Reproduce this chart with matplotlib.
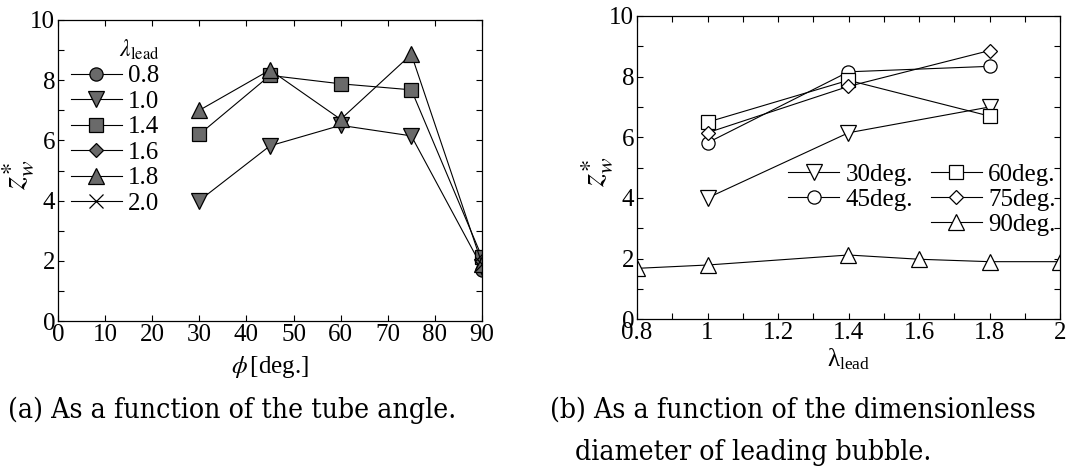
import matplotlib
matplotlib.use("Agg")
import matplotlib.pyplot as plt
from matplotlib.lines import Line2D
from matplotlib.ticker import MultipleLocator, FuncFormatter

plt.rcParams['font.family'] = ['Liberation Serif', 'DejaVu Serif']
plt.rcParams['mathtext.fontset'] = 'stix'

# ---------------- data ----------------
# left chart: z_w* vs phi [deg.] for each lambda_lead
lam08_phi = [90]
lam08_z = [1.68]
lam10_phi = [30, 45, 60, 75, 90]
lam10_z = [4.0, 5.82, 6.5, 6.15, 1.79]
lam14_phi = [30, 45, 60, 75, 90]
lam14_z = [6.2, 8.16, 7.88, 7.68, 2.12]
lam16_phi = [90]
lam16_z = [1.98]
lam18_phi = [30, 45, 60, 75, 90]
lam18_z = [7.0, 8.34, 6.7, 8.86, 1.90]
lam20_phi = [90]
lam20_z = [1.90]
left_labels = ['0.8', '1.0', '1.4', '1.6', '1.8', '2.0']

# right chart: z_w* vs lambda_lead for each tube angle
lam_sub = [1.0, 1.4, 1.8]
deg30_z = [4.0, 6.15, 7.0]
deg45_z = [5.82, 8.16, 8.34]
deg60_z = [6.5, 7.88, 6.7]
deg75_z = [6.15, 7.68, 8.86]
deg90_lam = [0.8, 1.0, 1.4, 1.6, 1.8, 2.0]
deg90_z = [1.68, 1.79, 2.12, 1.98, 1.90, 1.90]
right_labels = ['30deg.', '45deg.', '60deg.', '75deg.', '90deg.']

caption_a = '(a) As a function of the tube angle.'
caption_b1 = '(b) As a function of the dimensionless'
caption_b2 = 'diameter of leading bubble.'

# ---------------- figure ----------------
W, H = 1072, 471
fig = plt.figure(figsize=(W / 100, H / 100), dpi=100)

def px_axes(x0, y0, x1, y1):
    return fig.add_axes([x0 / W, 1 - y1 / H, (x1 - x0) / W, (y1 - y0) / H])

axL = px_axes(58, 20, 482, 321)
axR = px_axes(637, 16, 1060, 319.3)

FS = 18
gray = '#6a6a6a'
lw = 0.8

def style(ax):
    ax.tick_params(which='both', direction='in', top=True, right=True,
                   length=4, width=0.8, labelsize=FS)
    ax.tick_params(axis='x', pad=2)
    ax.tick_params(axis='y', pad=2)
    for s in ax.spines.values():
        s.set_linewidth(0.9)

ylabel_txt = r'$z_{w}^{\ast}$'

# left
left_series = [
    (lam08_phi, lam08_z, 'o', 9.5),
    (lam10_phi, lam10_z, 'v', 11),
    (lam14_phi, lam14_z, 's', 9.5),
    (lam16_phi, lam16_z, 'D', 7.2),
    (lam18_phi, lam18_z, '^', 11),
    (lam20_phi, lam20_z, 'x', 10),
]
for (xs, ys, m, ms), lab in zip(left_series, left_labels):
    axL.plot(xs, ys, color='black', lw=lw, marker=m, ms=ms,
             mfc=gray, mec='black', mew=0.9, label=lab)
axL.set_xlim(0, 90)
axL.set_ylim(0, 10)
axL.xaxis.set_major_locator(MultipleLocator(10))
axL.yaxis.set_major_locator(MultipleLocator(2))
axL.yaxis.set_minor_locator(MultipleLocator(1))
style(axL)
axL.set_xlabel(r'$\phi\,$[deg.]', fontsize=FS)
axL.xaxis.set_label_coords(0.5, -0.11)
axL.set_ylabel(ylabel_txt, fontsize=24)
axL.yaxis.set_label_coords(-0.052, 0.485)
axL.legend(loc='upper left', bbox_to_anchor=(0.03, 0.942),
           frameon=False, fontsize=FS, title=r'$\lambda_{\rm lead}$',
           title_fontsize=FS - 1, handlelength=2.05, handletextpad=0.25,
           labelspacing=0.12, borderpad=0, borderaxespad=0,
           alignment='right')

# right
right_series = [
    (lam_sub, deg30_z, 'v', 11),
    (lam_sub, deg45_z, 'o', 9.5),
    (lam_sub, deg60_z, 's', 9.5),
    (lam_sub, deg75_z, 'D', 7.2),
    (deg90_lam, deg90_z, '^', 11),
]
handles = []
for (xs, ys, m, ms), lab in zip(right_series, right_labels):
    h, = axR.plot(xs, ys, color='black', lw=lw, marker=m, ms=ms,
                  mfc='white', mec='black', mew=0.9, label=lab)
    handles.append(h)
axR.set_xlim(0.8, 2.0)
axR.set_ylim(0, 10)
axR.xaxis.set_major_locator(MultipleLocator(0.2))
axR.xaxis.set_minor_locator(MultipleLocator(0.1))
axR.yaxis.set_major_locator(MultipleLocator(2))
axR.yaxis.set_minor_locator(MultipleLocator(1))
axR.xaxis.set_major_formatter(FuncFormatter(lambda v, p: '%g' % round(v, 2)))
style(axR)
axR.set_xlabel(r'$\mathregular{λ_{lead}}$', fontsize=FS)
axR.xaxis.set_label_coords(0.5, -0.09)
axR.set_ylabel(ylabel_txt, fontsize=24)
axR.yaxis.set_label_coords(-0.052, 0.486)
blank = Line2D([], [], color='none', marker=None)
hs = [handles[0], handles[1], blank, handles[2], handles[3], handles[4]]
ls = [right_labels[0], right_labels[1], '', right_labels[2], right_labels[3], right_labels[4]]
axR.legend(hs, ls, loc='upper left', bbox_to_anchor=(0.357, 0.515), ncol=2,
           frameon=False, fontsize=FS, handlelength=2.05, handletextpad=0.25,
           labelspacing=0.11, columnspacing=0.7, borderpad=0, borderaxespad=0)

# captions
cap_kw = dict(fontsize=20.3, family='DejaVu Serif', fontstretch='condensed',
              va='center', ha='left')
fig.text(8 / W, 1 - 410 / H, caption_a, **cap_kw)
fig.text(550 / W, 1 - 410 / H, caption_b1, **cap_kw)
fig.text(575 / W, 1 - 452 / H, caption_b2, **cap_kw)

fig.savefig('out.png', dpi=100)
